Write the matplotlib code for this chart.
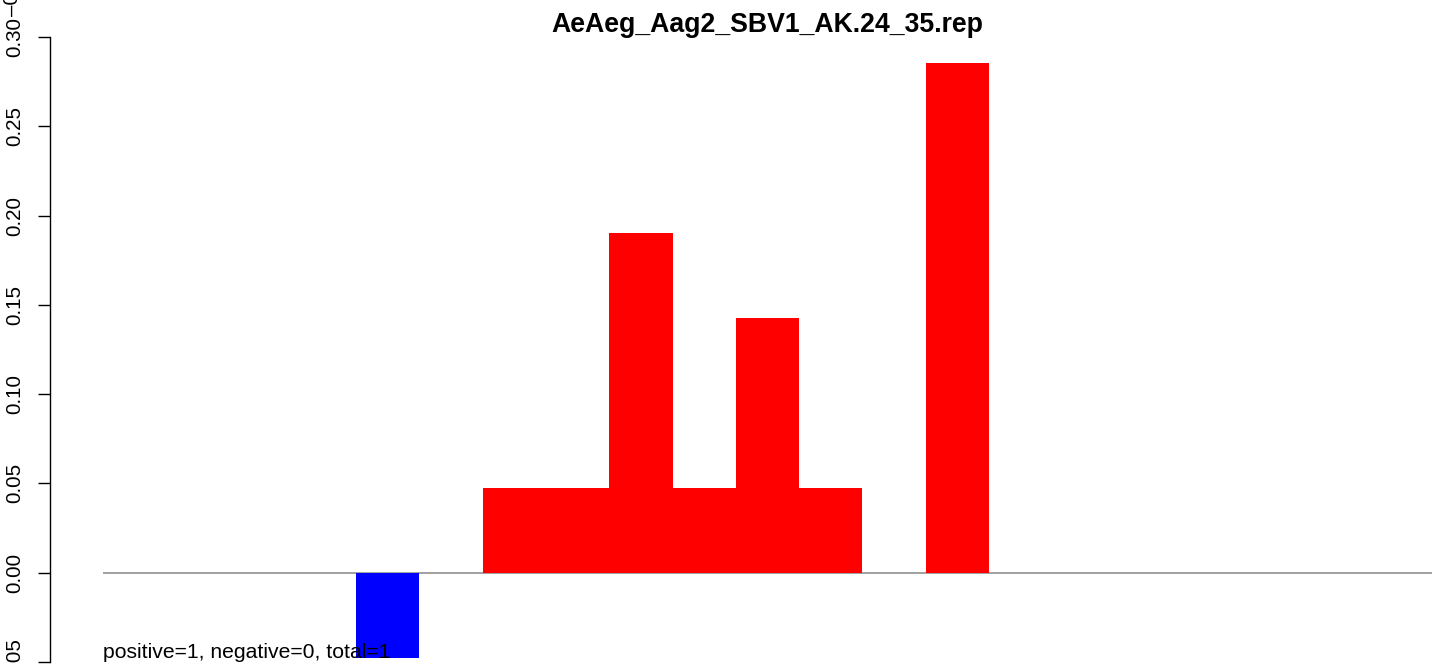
import matplotlib
matplotlib.use("Agg")
import matplotlib.pyplot as plt
import numpy as np

plt.rcParams['font.family'] = ['Liberation Sans', 'DejaVu Sans']

# bar data (21 bins, fraction of reads)
positions = np.arange(21)
values = [0, 0, 0, 0, -0.0476, 0, 0.0476, 0.0476, 0.1905, 0.0476,
          0.1429, 0.0476, 0, 0.2857, 0, 0, 0, 0, 0, 0, 0]
yticks = [-0.05, 0.00, 0.05, 0.10, 0.15, 0.20, 0.25, 0.30]
ytick_labels = ["-0.05", "0.00", "0.05", "0.10", "0.15", "0.20", "0.25", "0.30"]
title = "AeAeg_Aag2_SBV1_AK.24_35.rep"
note = "positive=1, negative=0, total=1"

W, H = 1441, 664
fig = plt.figure(figsize=(W / 100, H / 100), dpi=100)
ax = fig.add_axes([50 / W, 2 / H, 1382 / W, 625 / H])

colors = ['red' if v > 0 else 'blue' for v in values]
ax.bar(positions, values, width=1.0, align='edge', color=colors, linewidth=0)
ax.hlines(0, 0, len(positions), color='#999999', lw=1.3, zorder=0)

ax.set_xlim(-53 / 63.29, len(positions))
ax.set_ylim(-0.05, 0.30)

for s in ['top', 'right', 'bottom']:
    ax.spines[s].set_visible(False)
ax.spines['left'].set_linewidth(1.0)
ax.set_xticks([])
ax.set_yticks(yticks)
ax.set_yticklabels(ytick_labels, rotation=90, va='center', fontsize=14.8)
ax.tick_params(axis='y', length=8.6, width=1.0, pad=10)

ax.text(0, -0.0476, note, fontsize=15.2, ha='left', va='baseline', zorder=5)

fig.text(767.5 / W, 1 - 32 / H, title, fontsize=19.2, fontweight='bold',
         ha='center', va='baseline')
# clipped label fragment at the top of the axis
fig.text(12 / W, 1 - 16 / H, "–0", fontsize=14.8, rotation=90,
         ha='center', va='bottom')

fig.savefig("out.png", dpi=100)
